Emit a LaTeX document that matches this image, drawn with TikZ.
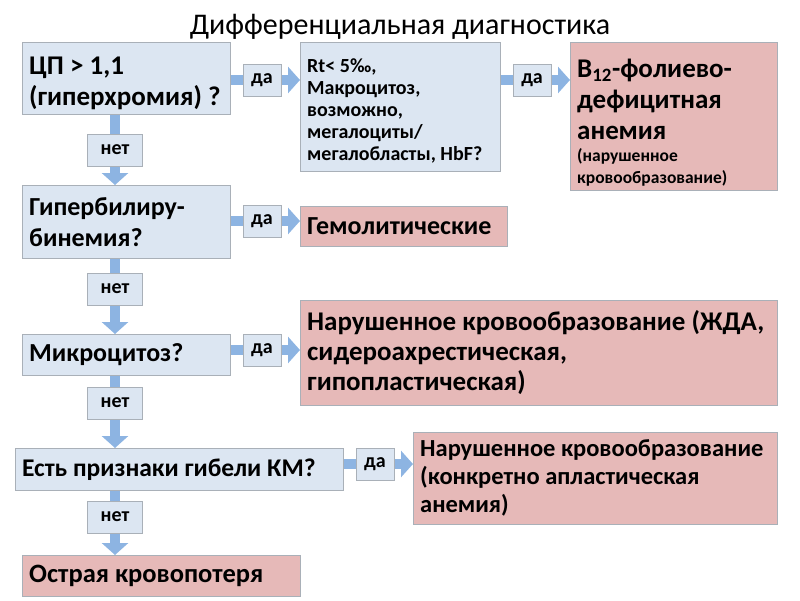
\documentclass[tikz,border=0pt]{standalone}
\usepackage{fontspec}
\setmainfont{Carlito}
\usetikzlibrary{arrows.meta,backgrounds}
\definecolor{qfill}{HTML}{DCE6F2}
\definecolor{rfill}{HTML}{E6B9B8}
\definecolor{edge}{HTML}{A9B0B8}
\definecolor{flowc}{HTML}{8DB4E2}
\newcommand{\fs}[2]{\fontsize{#1}{#2}\selectfont}
\newcommand{\lift}[1]{\rule{0pt}{#1}}

\begin{document}
\begin{tikzpicture}[x=1pt,y=-1pt,
    qbox/.style={draw=edge, fill=qfill, anchor=north west, align=flush left, inner xsep=7pt},
    rbox/.style={qbox, fill=rfill},
    lbl/.style={draw=edge, fill=qfill, font=\bfseries\fs{20}{24}, minimum width=38pt, minimum height=32pt, inner xsep=3pt},
    flow/.style={line width=10pt, draw=flowc, -{Triangle[width=26pt,length=12pt]}}]
    \useasboundingbox (0,0) rectangle (800,600);

    % Title
    \node (title) at (400,27) {\fs{30}{36}Дифференциальная диагностика};

    % Questions (left column)
    \node[qbox, minimum width=208pt, minimum height=72pt, text width=194pt, font=\bfseries\fs{27}{31}] (q1) at (22,42) {\lift{28pt}ЦП > 1,1\\(гиперхромия) ?};
    \node[qbox, minimum width=208pt, minimum height=73pt, text width=194pt, font=\bfseries\fs{26}{31}] (q2) at (22,185) {Гипербилиру-\\бинемия?};
    \node[qbox, minimum width=208pt, minimum height=41pt, text width=194pt, font=\bfseries\fs{26}{30}] (q3) at (22,334) {Микроцитоз?};
    \node[qbox, minimum width=328pt, minimum height=42pt, text width=314pt, font=\bfseries\fs{25.5}{30}] (q4) at (15,448) {Есть признаки гибели КМ?};

    % Intermediate check
    \node[qbox, minimum width=200pt, minimum height=129pt, text width=186pt, font=\bfseries\fs{20}{22}] (rt) at (300,42) {\lift{22pt}Rt< 5‰,\\Макроцитоз,\\возможно,\\мегалоциты/\\мегалобласты, HbF?};

    % Results (pink)
    \node[rbox, minimum width=207pt, minimum height=148pt, text width=193pt, font=\bfseries\fs{27}{31}] (b12) at (570,42)
        {\lift{31pt}B\textsubscript{12}-фолиево-\\дефицитная\\анемия\par{\fs{17.5}{22}(нарушенное\\кровообразование)\par}};
    \node[rbox, minimum width=207pt, minimum height=40pt, text width=193pt, font=\bfseries\fs{26}{30}] (hem) at (300,206) {Гемолитические};
    \node[rbox, minimum width=477pt, minimum height=105pt, text width=463pt, font=\bfseries\fs{27}{30}] (ida) at (300,300)
        {Нарушенное кровообразование (ЖДА,\\сидероахрестическая,\\гипопластическая)};
    \node[rbox, minimum width=364pt, minimum height=92pt, text width=350pt, font=\bfseries\fs{24.5}{28}] (apl) at (413,432)
        {Нарушенное кровообразование\\(конкретно апластическая\\анемия)};
    \node[rbox, minimum width=278pt, minimum height=41pt, text width=264pt, font=\bfseries\fs{26.5}{30}] (loss) at (22,555) {Острая кровопотеря};

    % Answer labels
    \node[lbl] (y1) at (262,80) {да};
    \node[lbl] (y2) at (532,80) {да};
    \node[lbl, minimum width=55pt] (n1) at (115,150) {нет};
    \node[lbl] (y3) at (262,221) {да};
    \node[lbl, minimum width=55pt] (n2) at (115,289) {нет};
    \node[lbl] (y4) at (262,350) {да};
    \node[lbl, minimum width=55pt] (n3) at (115,403) {нет};
    \node[lbl] (y5) at (375,464) {да};
    \node[lbl, minimum width=55pt] (n4) at (115,517) {нет};

    % Connectors
    \begin{scope}[on background layer]
        \draw[flow] (q1.east |- y1) -- (rt.west |- y1);
        \draw[flow] (rt.east |- y2) -- (b12.west |- y2);
        \draw[flow] (q1.south -| n1) -- (q2.north -| n1);
        \draw[flow] (q2.east |- y3) -- (hem.west |- y3);
        \draw[flow] (q2.south -| n2) -- (q3.north -| n2);
        \draw[flow] (q3.east |- y4) -- (ida.west |- y4);
        \draw[flow] (q3.south -| n3) -- (q4.north -| n3);
        \draw[flow] (q4.east |- y5) -- (apl.west |- y5);
        \draw[flow] (q4.south -| n4) -- (loss.north -| n4);
    \end{scope}
\end{tikzpicture}
\end{document}
